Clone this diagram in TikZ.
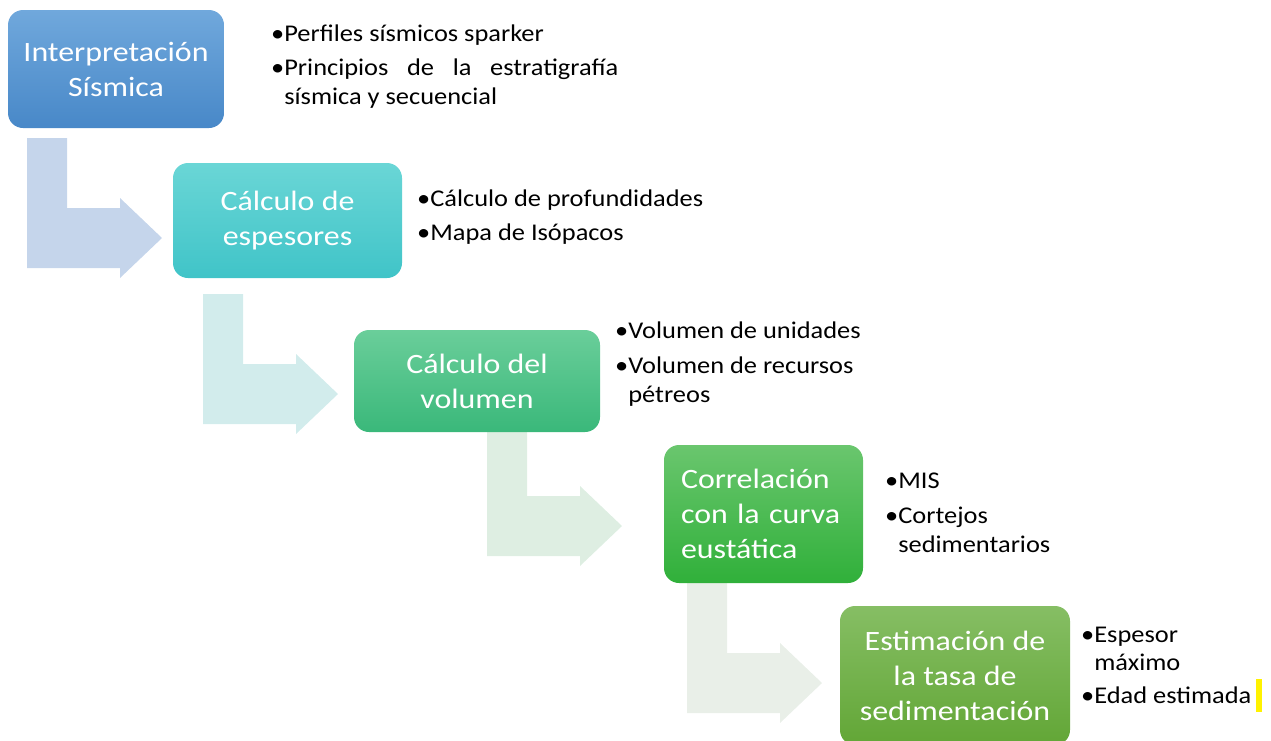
\documentclass[tikz,border=0pt]{standalone}
\usepackage{fontspec}
\setmainfont{Carlito}
\newfontfamily\boxfont[FakeStretch=1.14]{Carlito}
\newfontfamily\sidefont[FakeStretch=1.10]{Carlito}
\definecolor{aA}{RGB}{197,213,235}
\definecolor{aB}{RGB}{210,236,236}
\definecolor{aC}{RGB}{222,238,226}
\definecolor{aD}{RGB}{233,239,232}
\definecolor{bAt}{RGB}{112,168,220}
\definecolor{bAb}{RGB}{72,136,200}
\definecolor{bBt}{RGB}{106,214,214}
\definecolor{bBb}{RGB}{64,196,200}
\definecolor{bCt}{RGB}{106,206,154}
\definecolor{bCb}{RGB}{58,184,122}
\definecolor{bDt}{RGB}{106,198,110}
\definecolor{bDb}{RGB}{48,176,58}
\definecolor{bEt}{RGB}{134,190,100}
\definecolor{bEb}{RGB}{98,166,54}
\newcommand\blockarrow[2]{\fill[#2] (#1) -- ++(40,0) -- ++(0,70) -- ++(53,0) -- ++(0,-10) -- ++(42,40) -- ++(-42,40) -- ++(0,-10) -- ++(-93,0) -- cycle;}
\begin{document}
\begin{tikzpicture}[x=1pt,y=-1pt,
  box/.style={rounded corners=15pt, inner sep=0pt, text=white, align=center, font=\boxfont\fontsize{28}{35}\selectfont},
  side/.style={anchor=base west, inner sep=0pt, font=\sidefont\fontsize{24}{30}\selectfont, text=black}]
\useasboundingbox (0,0) rectangle (1271,740);
% block arrows
\coordinate (a1) at (27,138);
\coordinate (a2) at (203,294);
\coordinate (a3) at (487,426);
\coordinate (a4) at (687,583);
\blockarrow{a1}{aA}
\blockarrow{a2}{aB}
\blockarrow{a3}{aC}
\blockarrow{a4}{aD}
% boxes
\node[box, minimum width=216pt, minimum height=118pt, top color=bAt, bottom color=bAb] (b1) at (116,69) {Interpretación\\Sísmica};
\node[box, minimum width=229pt, minimum height=115pt, top color=bBt, bottom color=bBb] (b2) at (287.5,220.5) {Cálculo de\\espesores};
\node[box, minimum width=246pt, minimum height=102pt, top color=bCt, bottom color=bCb] (b3) at (477,381) {Cálculo del\\volumen};
\node[box, align=left, text width=165pt, minimum width=199pt, minimum height=138pt, top color=bDt, bottom color=bDb] (b4) at (763.5,514) {Correlación\\con la curva\\eustática};
\node[box, minimum width=230pt, minimum height=139pt, top color=bEt, bottom color=bEb] (b5) at (955,675.5) {Estimación de\\la tasa de\\sedimentación};
% side texts
\node[side] (t1a) at (271,41.5) {•Perfiles sísmicos sparker};
\node[side] (t1b) at (271,75) {\makebox[347pt][s]{•Principios de la estratigrafía}};
\node[side] (t1c) at (271,104) {\phantom{•}sísmica y secuencial};
\node[side] (t2a) at (417,206) {•Cálculo de profundidades};
\node[side] (t2b) at (417,240) {•Mapa de Isópacos};
\node[side] (t3a) at (615,338) {•Volumen de unidades};
\node[side] (t3b) at (615,373) {•Volumen de recursos};
\node[side] (t3c) at (615,402) {\phantom{•}pétreos};
\node[side] (t4a) at (885,488) {•MIS};
\node[side] (t4b) at (885,523) {•Cortejos};
\node[side] (t4c) at (885,552) {\phantom{•}sedimentarios};
\node[side] (t5a) at (1081,642) {•Espesor};
\node[side] (t5b) at (1081,670) {\phantom{•}máximo};
\node[side] (t5c) at (1081,703) {•Edad estimada};
\fill[yellow] (1256,679) rectangle (1262,712);
\end{tikzpicture}
\end{document}
